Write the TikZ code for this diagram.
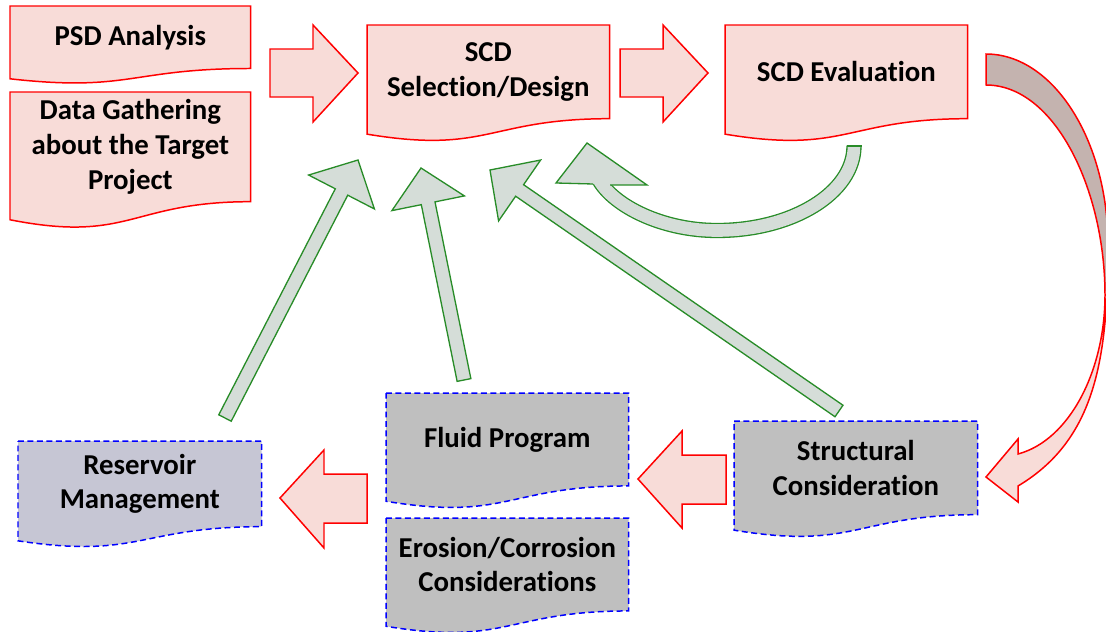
\documentclass[tikz,border=0pt]{standalone}
\usepackage{fontspec}
\setmainfont{Carlito}[Ligatures=NoCommon]
\usetikzlibrary{calc,backgrounds}

\definecolor{boxpink}{RGB}{248,220,216}
\definecolor{boxgray}{RGB}{191,191,191}
\definecolor{resgray}{RGB}{198,198,212}
\definecolor{arrgreen}{RGB}{213,221,216}
\definecolor{linegreen}{RGB}{40,140,40}
\definecolor{backred}{RGB}{196,179,175}

\tikzset{
  docnode/.style={anchor=north west, inner sep=0pt, align=center,
    font=\bfseries\fontsize{16.4}{19.8}\selectfont},
  redbox/.style={fill=boxpink, draw=red, line width=0.85pt},
  bluebox/.style={fill=boxgray, draw=blue, line width=0.85pt, dash pattern=on 3.4pt off 2pt},
  redarrow/.style={fill=boxpink, draw=red, line width=0.85pt},
  greenarrow/.style={fill=arrgreen, draw=linegreen, line width=0.75pt},
  greenshaft/.style={draw=linegreen, line width=0.75pt, double=arrgreen, double distance=7.2pt}
}

% wavy bottom of a document box, from the node's corners
\newcommand\docpath[1]{(#1.north west) -- (#1.north east) -- (#1.south east)
  .. controls (#1.south) and ($(#1.north)!1.381!(#1.south)$) .. ($(#1.north west)!1.165!(#1.south west)$) -- cycle}

\newcommand\gblock[2]{%
  \coordinate (hb) at ($(#2)!0.72cm!(#1)$);
  \draw[greenarrow] ($(#1)!0.14cm!90:(#2)$) -- ($(hb)!0.14cm!90:(#2)$) -- ($(hb)!0.74cm!90:(#2)$) -- (#2)
    -- ($(hb)!0.74cm!-90:(#2)$) -- ($(hb)!0.14cm!-90:(#2)$) -- ($(#1)!0.14cm!-90:(#2)$) -- cycle;}

\newcommand\bigturn{(986,54) .. controls (1053,54) and (1108,140) .. (1108,245)
  .. controls (1108,360) and (1095,440) .. (1018,486) -- (1018,502) -- (986,477) -- (1018,439) -- (1018,454)
  .. controls (1070,440) and (1105,370) .. (1105,295) .. controls (1105,190) and (1055,85) .. (986,85) -- cycle}

\begin{document}
\begin{tikzpicture}[x=0.02cm, y=-0.02cm]
\path[use as bounding box] (0,0) rectangle (1106,632);
\clip (0,0) rectangle (1106,632);

\node[docnode, minimum width=4.8cm, minimum height=1.236cm] (psd) at (10,6) {PSD Analysis};
\node[docnode, minimum width=4.8cm, minimum height=2.18cm] (data) at (10,92) {Data Gathering\\about the Target\\Project};
\node[docnode, minimum width=4.84cm, minimum height=1.86cm] (scd) at (367,25) {SCD\\Selection/Design};
\node[docnode, minimum width=4.84cm, minimum height=1.86cm] (eval) at (725,25) {SCD Evaluation};
\node[docnode, minimum width=4.86cm, minimum height=1.70cm] (res) at (18,441) {Reservoir\\Management};
\node[docnode, minimum width=4.84cm, minimum height=1.845cm] (fluid) at (386,393) {Fluid Program};
\node[docnode, minimum width=4.84cm, minimum height=1.845cm] (eros) at (386,518) {Erosion/Corrosion\\Considerations};
\node[docnode, minimum width=4.86cm, minimum height=1.86cm] (struct) at (734,421) {Structural\\Consideration};

\begin{pgfonlayer}{background}
  \foreach \n in {psd,data,scd,eval} \path[redbox] \docpath{\n};
  \foreach \n in {fluid,eros,struct} \path[bluebox] \docpath{\n};
  \path[bluebox, fill=resgray] \docpath{res};
\end{pgfonlayer}

\draw[redarrow] (270,49) -- (313,49) -- (313,25) -- (358,73) -- (313,122) -- (313,97) -- (270,97) -- cycle;
\draw[redarrow] (620,49) -- (663,49) -- (663,25) -- (708,73) -- (663,122) -- (663,97) -- (620,97) -- cycle;
\draw[redarrow] (726,455) -- (682,455) -- (682,431) -- (638,479) -- (682,528) -- (682,504) -- (726,504) -- cycle;
\draw[redarrow] (367,474) -- (324,474) -- (324,450) -- (280,498) -- (324,548) -- (324,523) -- (367,523) -- cycle;

\fill[boxpink] \bigturn;
\begin{scope}
  \clip (950,0) rectangle (1106,290);
  \fill[backred] \bigturn;
\end{scope}
\draw[red, line width=0.85pt] \bigturn;

\coordinate (resout) at (225,418);
\coordinate (resin) at (358,160);
\coordinate (fluidout) at (464,380);
\coordinate (fluidin) at (421,168);
\coordinate (structout) at (839,411);
\coordinate (structin) at (490,170);
\gblock{resout}{resin}
\gblock{fluidout}{fluidin}
\gblock{structout}{structin}

\draw[greenshaft] (854,146) .. controls (854,192.7) and (792.7,230.5) .. (717,230.5)
  .. controls (662,230.5) and (614,206) .. (599,180);
\draw[linegreen, line width=0.75pt] (846.5,146) -- (861.5,146);
\filldraw[greenarrow] (593,184) -- (556,183) -- (587,143) -- (647,185) -- (610,185);
\end{tikzpicture}
\end{document}
